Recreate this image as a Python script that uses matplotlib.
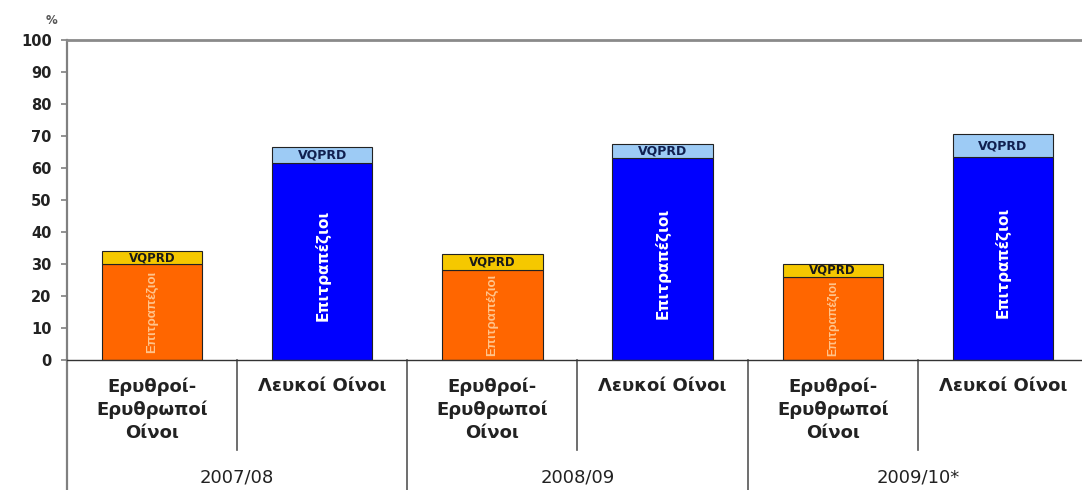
import matplotlib
matplotlib.use("Agg")
import matplotlib.pyplot as plt
import numpy as np

# Wine production shares (%) by type and marketing year
seasons = ["2007/08", "2008/09", "2009/10*"]
wine_types = ["Ερυθροί-\nΕρυθρωποί\nΟίνοι", "Λευκοί Οίνοι"]
table_wine = [30, 61.5, 28, 63, 26, 63.5]   # Επιτραπέζιοι
vqprd = [4, 5, 5, 4.5, 4, 7]                 # VQPRD
is_red = [True, False, True, False, True, False]

base_colors = ["#FF6600" if r else "#0000FF" for r in is_red]
top_colors = ["#F5C800" if r else "#9DCBF5" for r in is_red]
yticks = list(range(0, 101, 10))

plt.rcParams["font.family"] = ["DejaVu Sans"]
fig = plt.figure(figsize=(10.82, 4.90), dpi=100)
ax = fig.add_axes([67 / 1082, 130 / 490, 1021 / 1082, 320 / 490])

x = np.arange(len(table_wine))
width = 0.59
bars_base = ax.bar(x, table_wine, width, color=base_colors, edgecolor="#222222", linewidth=0.8)
bars_top = ax.bar(x, vqprd, width, bottom=table_wine, color=top_colors, edgecolor="#222222", linewidth=0.8)

ax.set_xlim(-0.5, 5.5)
ax.set_ylim(0, 100)
renderer = fig.canvas.get_renderer()

for i, b in enumerate(bars_base):
    # Table wine label rotated inside the lower segment, shrunk to fit the bar
    if is_red[i]:
        txt = ax.text(x[i], table_wine[i] / 2, "Επιτραπέζιοι", rotation=90,
                      ha="center", va="center", fontsize=9.5, fontweight="bold",
                      family="Liberation Sans", color="#FFC48C", zorder=3)
    else:
        txt = ax.text(x[i], table_wine[i] * 0.48, "Επιτραπέζιοι", rotation=90,
                      ha="center", va="center", fontsize=11, fontweight="bold",
                      color="white", zorder=3)
    seg_h = b.get_window_extent(renderer).height
    while txt.get_window_extent(renderer).height > seg_h - 6 and txt.get_fontsize() > 5:
        txt.set_fontsize(txt.get_fontsize() - 0.25)

for i in range(len(x)):
    # VQPRD label in the upper segment
    ax.text(x[i], table_wine[i] + vqprd[i] / 2, "VQPRD", ha="center", va="center",
            fontsize=8.5 if is_red[i] else 9, fontweight="bold", zorder=3,
            color="#1a1a1a" if is_red[i] else "#102050")

ax.set_yticks(yticks)
ax.set_yticklabels([str(v) for v in yticks], fontsize=10.5, fontweight="bold", color="#222222")
ax.tick_params(axis="y", direction="out", length=4, width=1.2, color="#808080", pad=7)
ax.set_xticks([])

ax.spines["right"].set_visible(False)
ax.spines["top"].set_color("#8a8a8a")
ax.spines["top"].set_linewidth(2)
ax.spines["left"].set_color("#808080")
ax.spines["left"].set_linewidth(1.6)
ax.spines["bottom"].set_color("#333333")
ax.spines["bottom"].set_linewidth(1.0)

trans = ax.get_xaxis_transform()
px = 1 / 320.0
# extension of the left axis below the plot
ax.plot([-0.5, -0.5], [0, -130 * px], transform=trans, color="#808080", lw=1.6, clip_on=False)
# separators between wine types within a season
for xs in [0.5, 2.5, 4.5]:
    ax.plot([xs, xs], [0, -90 * px], transform=trans, color="#555555", lw=1.2, clip_on=False)
# separators between seasons
for xs in [1.5, 3.5, 5.5]:
    ax.plot([xs, xs], [0, -130 * px], transform=trans, color="#555555", lw=1.2, clip_on=False)

# category labels
for i in range(len(table_wine)):
    ax.text(x[i], -17 * px, wine_types[i % 2], transform=trans, ha="center", va="top",
            fontsize=13, fontweight="bold", color="#222222", linespacing=1.35, clip_on=False)
# season labels
for j, s in enumerate(seasons):
    ax.text(2 * j + 0.5, -118 * px, s, transform=trans, ha="center", va="center",
            fontsize=13, color="#222222", clip_on=False)

fig.text(51 / 1082, 1 - 21 / 490, "%", ha="center", va="center", fontsize=8.5,
         fontweight="bold", color="#555555")

fig.savefig("out.png", dpi=100, facecolor="white")
